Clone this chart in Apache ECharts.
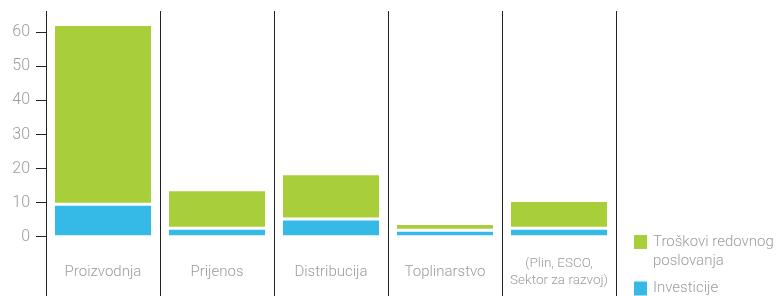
<!DOCTYPE html>
<html>
<head>
<meta charset="utf-8">
<script src="https://cdn.jsdelivr.net/npm/echarts@6/dist/echarts.min.js"></script>
<style>
  html, body { margin: 0; padding: 0; background: #fff; }
  #chart { width: 782px; height: 296px; }
</style>
</head>
<body>
<div id="chart"></div>
<script>
var categories = ['Proizvodnja', 'Prijenos', 'Distribucija', 'Toplinarstvo', '(Plin, ESCO,\nSektor za razvoj)'];
var investicije = [9.5, 2.5, 5.2, 1.9, 2.5];
var troskovi = [52.8, 11.3, 13.3, 2.0, 8.1];
var yTicks = [0, 10, 20, 30, 40, 50, 60];
var yMin = -17.4;
var yMax = 66.25;

var dom = document.getElementById('chart');
var myChart = echarts.init(dom);
var font = 'Roboto';
var grey = '#9c9c9c';
var lineColor = '#222';

var option = {
    animation: false,
    grid: {
        left: 46,
        right: 166,
        top: 11,
        bottom: 0,
        containLabel: false,
        outerBoundsMode: 'none'
    },
    legend: [{
        data: ['Troškovi redovnog poslovanja'],
        orient: 'vertical',
        left: 632,
        top: 208,
        padding: 0,
        itemWidth: 15,
        itemHeight: 16,
        icon: 'rect',
        formatter: function () {
            return ' \nTroškovi redovnog\nposlovanja';
        },
        textStyle: { color: grey, fontFamily: font, fontWeight: 300, fontSize: 15, lineHeight: 19, padding: [11, 0, 0, 0] }
    }, {
        data: ['Investicije'],
        orient: 'vertical',
        left: 632,
        top: 279,
        padding: 0,
        itemWidth: 15,
        itemHeight: 16,
        icon: 'rect',
        textStyle: { color: grey, fontFamily: font, fontWeight: 300, fontSize: 15, lineHeight: 19 }
    }],
    xAxis: {
        type: 'category',
        data: categories,
        axisLine: { show: false, onZero: false },
        axisTick: { show: false },
        axisLabel: {
            interval: 0,
            margin: -24,
            verticalAlign: 'middle',
            color: grey,
            fontFamily: font,
            fontWeight: 300,
            fontSize: 15,
            formatter: function (value, idx) {
                if (value.indexOf('\n') < 0) return value;
                return value.split('\n').map(function (l) { return '{s|' + l + '}'; }).join('\n');
            },
            rich: {
                s: { color: grey, fontFamily: font, fontWeight: 300, fontSize: 13.5, lineHeight: 17 }
            }
        },
        splitLine: {
            show: true,
            interval: 0,
            lineStyle: { color: lineColor, width: 1 }
        }
    },
    yAxis: {
        type: 'value',
        min: yMin,
        max: yMax,
        axisLine: { show: false },
        splitLine: { show: false },
        axisTick: {
            show: true,
            length: 10,
            customValues: yTicks,
            lineStyle: { color: lineColor, width: 1 }
        },
        axisLabel: {
            margin: 16,
            customValues: yTicks,
            color: grey,
            fontFamily: font,
            fontWeight: 300,
            fontSize: 16
        }
    },
    series: [{
        name: 'Investicije',
        type: 'bar',
        stack: 'total',
        barWidth: 99,
        data: investicije,
        itemStyle: { color: '#35bae8', borderColor: '#fff', borderWidth: 1.5 }
    }, {
        name: 'Troškovi redovnog poslovanja',
        type: 'bar',
        stack: 'total',
        barWidth: 99,
        data: troskovi,
        itemStyle: { color: '#a8ce3a', borderColor: '#fff', borderWidth: 1.5 }
    }]
};

if (option && typeof option === 'object') {
    myChart.setOption(option, true);
}
window.onresize = function () {
    myChart.resize();
};
</script>
</body>
</html>
